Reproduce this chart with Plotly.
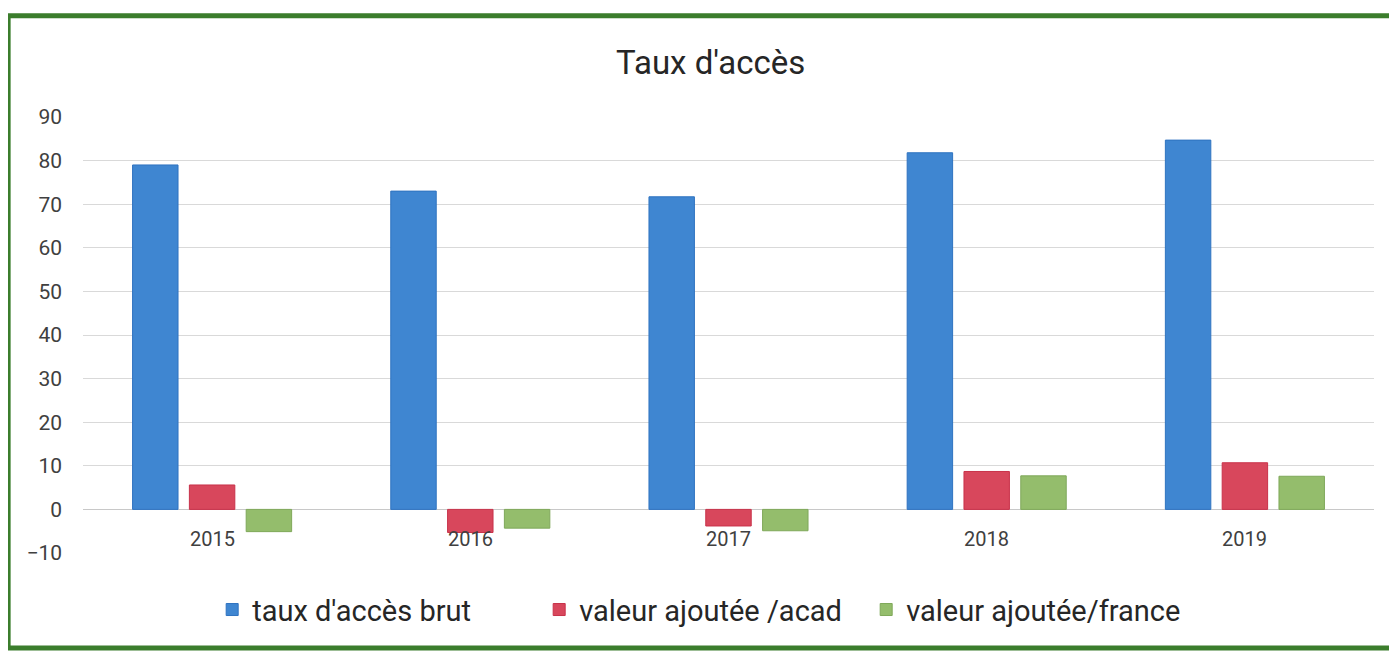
import plotly.graph_objects as go

# Taux d'accès par année
annees = ["2015", "2016", "2017", "2018", "2019"]
taux_brut = [79, 73, 71.7, 81.8, 84.7]
va_acad = [5.6, -5.3, -3.8, 8.7, 10.7]
va_france = [-5.1, -4.3, -4.9, 7.7, 7.6]

y_ticks = [-10, 0, 10, 20, 30, 40, 50, 60, 70, 80, 90]

font_name = "Roboto, sans-serif"

fig = go.Figure()
fig.add_trace(go.Bar(x=annees, y=taux_brut, name="taux d'accès brut",
                     marker=dict(color="#3f86d1", line=dict(color="#2f73c0", width=1))))
fig.add_trace(go.Bar(x=annees, y=va_acad, name="valeur ajoutée /acad",
                     marker=dict(color="#d8475c", line=dict(color="#c8324a", width=1))))
fig.add_trace(go.Bar(x=annees, y=va_france, name="valeur ajoutée/france",
                     marker=dict(color="#94bd6c", line=dict(color="#7fa85a", width=1))))

# year labels sit just under the zero line, like in Excel
# (x given as category index, otherwise "2015" is read as position 2015)
for i, a in enumerate(annees):
    fig.add_annotation(x=i, y=0, text=a, showarrow=False, yanchor="top", yshift=-16,
                       font=dict(size=20, color="#404040", family=font_name))

# green frame of the scanned chart
fig.add_shape(type="rect", xref="paper", yref="paper",
              x0=-0.058, x1=1.03, y0=-0.218, y1=1.232,
              line=dict(color="#3b7d2c", width=5), layer="below")

fig.update_layout(
    width=1397, height=651,
    margin=dict(l=75, r=31, t=109, b=106),
    paper_bgcolor="white", plot_bgcolor="white",
    title=dict(text="Taux d'accès", x=0.503, xanchor="center", y=0.917, yanchor="middle",
               font=dict(size=33, color="#262626", family=font_name)),
    barmode="group", bargap=0.34, bargroupgap=0.2,
    showlegend=True,
    legend=dict(orientation="h", x=0.48, xanchor="center", y=-0.13, yanchor="middle",
                font=dict(size=29, color="#262626", family=font_name),
                entrywidth=282, traceorder="normal"),
    font=dict(family=font_name),
)
fig.update_xaxes(type="category", range=[-0.5, 4.5], showticklabels=False,
                 showgrid=False, zeroline=False, showline=False)
fig.update_yaxes(range=[-10, 90], tickvals=y_ticks, showgrid=True, gridcolor="#d9d9d9",
                 zeroline=True, zerolinecolor="#c8c8c8", zerolinewidth=1,
                 tickfont=dict(size=21, color="#404040", family=font_name),
                 ticks="", ticklabelstandoff=20)

fig.write_html("out.html")
